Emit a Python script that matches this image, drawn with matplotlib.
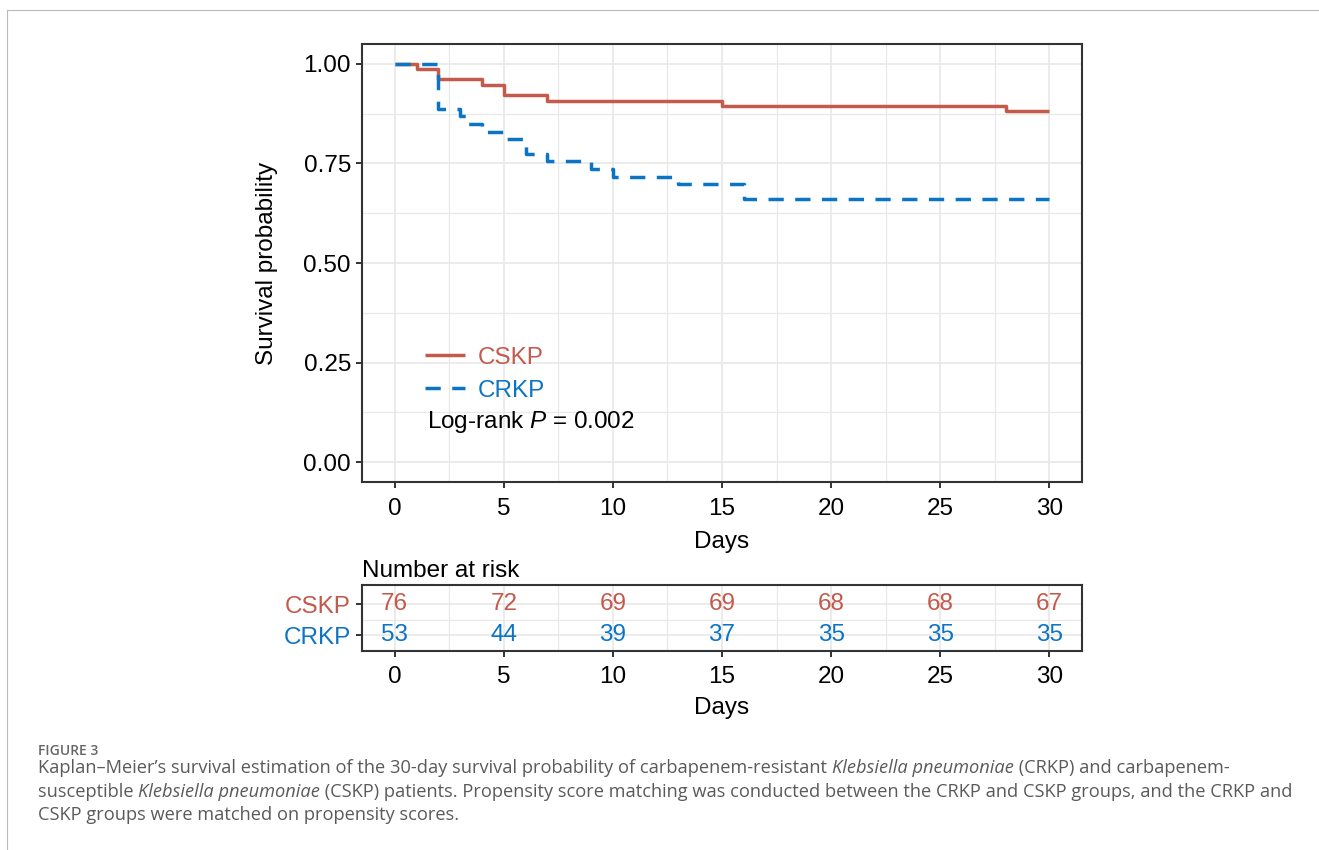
import matplotlib
matplotlib.use("Agg")
import matplotlib.pyplot as plt
from matplotlib.lines import Line2D
import numpy as np

# ---------------- data ----------------
cskp_times = [0, 1, 2, 4, 5, 7, 15, 28, 30]
cskp_surv = [1.000, 0.987, 0.961, 0.947, 0.921, 0.908, 0.895, 0.882, 0.882]
crkp_times = [0, 2, 3, 3.3, 4, 5, 6, 7, 9, 10, 13, 16, 30]
crkp_surv = [1.000, 0.887, 0.868, 0.849, 0.830, 0.811, 0.774, 0.755, 0.736,
             0.717, 0.698, 0.660, 0.660]
groups = ["CSKP", "CRKP"]
risk_times = [0, 5, 10, 15, 20, 25, 30]
risk_cskp = [76, 72, 69, 69, 68, 68, 67]
risk_crkp = [53, 44, 39, 37, 35, 35, 35]
x_ticks = [0, 5, 10, 15, 20, 25, 30]
y_ticks = [0.00, 0.25, 0.50, 0.75, 1.00]
pvalue_text = "0.002"

RED = "#C35A4B"
BLUE = "#0C74C4"
DARK = "#333333"
GRID = "#E8E8E8"

plt.rcParams["font.family"] = ["Liberation Sans", "DejaVu Sans"]
plt.rcParams["mathtext.fontset"] = "custom"
plt.rcParams["mathtext.rm"] = "Liberation Sans"
plt.rcParams["mathtext.it"] = "Liberation Sans:italic"

W, H = 1319, 850
fig = plt.figure(figsize=(W / 100, H / 100), dpi=100)

def box(l, t, r, b):
    return [l / W, 1 - b / H, (r - l) / W, (b - t) / H]

FS = 17.5

def style_axes(ax, xpad=4):
    for s in ax.spines.values():
        s.set_color(DARK)
        s.set_linewidth(1.5)
    ax.tick_params(axis="both", which="major", length=4, width=1.4, color=DARK,
                   labelsize=FS, labelcolor="black", pad=4)
    ax.tick_params(axis="x", which="major", pad=xpad)
    ax.tick_params(axis="both", which="minor", length=0)
    ax.grid(True, which="major", color=GRID, lw=1.2, zorder=0)
    ax.grid(True, which="minor", color=GRID, lw=0.9, zorder=0)
    ax.set_axisbelow(True)

# ---------------- main KM panel ----------------
ax = fig.add_axes(box(362, 44, 1082, 482))
l1, = ax.step(cskp_times, cskp_surv, where="post", color=RED, lw=2.5,
              solid_capstyle="butt", label=groups[0], zorder=3)
l2, = ax.step(crkp_times, crkp_surv, where="post", color=BLUE, lw=2.5,
              dashes=(4.4, 3.3), dash_capstyle="butt", label=groups[1], zorder=3)
ax.set_xlim(-1.5, 31.5)
ax.set_ylim(-0.05, 1.05)
ax.set_xticks(x_ticks)
ax.set_xticks(np.arange(2.5, 30, 5), minor=True)
ax.set_yticks(y_ticks)
ax.set_yticklabels([f"{v:.2f}" for v in y_ticks])
ax.set_yticks(np.arange(0.125, 1.0, 0.25), minor=True)
style_axes(ax, xpad=7.5)
ax.set_xlabel("Days", fontsize=FS, labelpad=8)
ax.set_ylabel("Survival probability", fontsize=FS, labelpad=18)

leg = ax.legend(handles=[l1, l2], loc="upper left", bbox_to_anchor=(0.0875, 0.309),
                frameon=False, fontsize=17.5, labelcolor="linecolor",
                handlelength=1.65, handletextpad=0.5, labelspacing=0.45,
                borderpad=0, borderaxespad=0)
ax.text(0.09, 0.137, "Log-rank $P$ = " + pvalue_text, transform=ax.transAxes,
        fontsize=17.5, ha="left", va="center", color="black")

# ---------------- risk table ----------------
ax2 = fig.add_axes(box(362, 585, 1082, 651))
ax2.set_xlim(-1.5, 31.5)
ax2.set_ylim(0.484, 2.613)
ax2.set_xticks(x_ticks)
ax2.set_xticks(np.arange(2.5, 30, 5), minor=True)
ax2.set_yticks([2, 1])
ax2.set_yticklabels(groups)
ax2.set_yticks([1.5], minor=True)
style_axes(ax2, xpad=7)
for lab, c in zip(ax2.get_yticklabels(), [RED, BLUE]):
    lab.set_color(c)
for t, a, b in zip(risk_times, risk_cskp, risk_crkp):
    ax2.text(t, 2, str(a), color=RED, fontsize=FS, ha="center", va="center")
    ax2.text(t, 1, str(b), color=BLUE, fontsize=FS, ha="center", va="center")
ax2.set_xlabel("Days", fontsize=FS, labelpad=6)
ax2.set_title("Number at risk", loc="left", fontsize=FS, pad=6)

# ---------------- page frame ----------------
fig.add_artist(Line2D([7 / W, 1], [1 - 10 / H, 1 - 10 / H], color="#BBBBBB", lw=0.8))
fig.add_artist(Line2D([7 / W, 7 / W], [0, 1 - 10 / H], color="#BBBBBB", lw=0.8))

# ---------------- caption ----------------
CAP = "#5A5A5A"
CFONT = ["Open Sans", "DejaVu Sans"]
CFS = 13.15
fig.text(38 / W, 1 - 755 / H, "FIGURE 3", fontsize=10, color="#666666",
         family=CFONT, fontweight="semibold", va="baseline")

lines = [
    [("Kaplan\u2013Meier\u2019s survival estimation of the 30-day survival probability of carbapenem-resistant ", "normal"),
     ("Klebsiella pneumoniae", "italic"), (" (CRKP) and carbapenem-", "normal")],
    [("susceptible ", "normal"), ("Klebsiella pneumoniae", "italic"),
     (" (CSKP) patients. Propensity score matching was conducted between the CRKP and CSKP groups, and the CRKP and", "normal")],
    [("CSKP groups were matched on propensity scores.", "normal")],
]
baselines = [773, 797, 820]
fig.canvas.draw()
renderer = fig.canvas.get_renderer()
for segs, yb in zip(lines, baselines):
    x = 38
    for s, st in segs:
        t = fig.text(x / W, 1 - yb / H, s, fontsize=CFS, color=CAP, family=CFONT,
                     style=st, va="baseline", ha="left")
        bb = t.get_window_extent(renderer)
        x += bb.width

fig.savefig("out.png", dpi=100)
